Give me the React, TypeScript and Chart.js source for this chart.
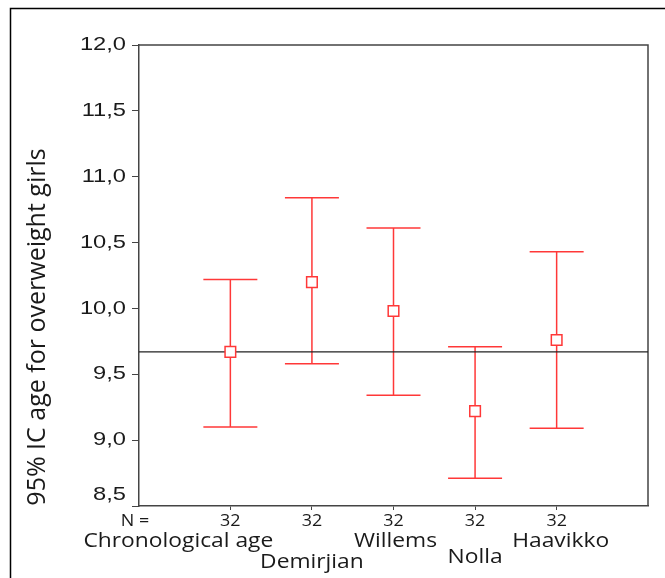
import { useEffect, useRef } from 'react';
import { Chart, registerables } from 'chart.js';

Chart.register(...registerables);

// Dental age estimation methods compared with chronological age (overweight girls)
const categories = ['Chronological age', 'Demirjian', 'Willems', 'Nolla', 'Haavikko'];
const sampleSizes = [32, 32, 32, 32, 32];
const means = [9.67, 10.2, 9.98, 9.22, 9.76];
const lowerCI = [9.1, 9.58, 9.34, 8.71, 9.09];
const upperCI = [10.22, 10.84, 10.61, 9.71, 10.43];
const referenceAge = 9.67;
const yTickValues = [8.5, 9.0, 9.5, 10.0, 10.5, 11.0, 11.5, 12.0];

const yTitle = '95% IC age for overweight girls';

const NUM_FONT = '"Liberation Sans", Arial, sans-serif';
const TEXT_FONT = '"Open Sans", "Noto Sans", sans-serif';
const RED = '#ff3838';
const AXIS = '#444444';
const INK = '#1a1a1a';

// label layout for the staggered category names (offset from tick, distance below axis)
const nameShift = [-52, 0, 2, 0, 4];
const nameDrop = [35, 56, 35, 51, 35];

// text drawn slightly wider than the font's natural width
function wideText(ctx: CanvasRenderingContext2D, text: string, x: number, y: number, stretch: number) {
  ctx.save();
  ctx.translate(x, y);
  ctx.scale(stretch, 1);
  ctx.fillText(text, 0, 0);
  ctx.restore();
}

const decorPlugin = {
  id: 'decor',
  beforeDatasetsDraw(chart: any) {
    const { ctx, chartArea: a, scales } = chart;
    const xs = scales.x;
    const ys = scales.y;
    ctx.save();
    // top and right sides of the plot box
    ctx.strokeStyle = AXIS;
    ctx.lineWidth = 1.5;
    ctx.beginPath();
    ctx.moveTo(a.left, a.top);
    ctx.lineTo(a.right, a.top);
    ctx.lineTo(a.right, a.bottom);
    ctx.stroke();

    // confidence-interval bars
    ctx.strokeStyle = RED;
    ctx.lineWidth = 1.5;
    const cap = 27;
    categories.forEach((_, i) => {
      const x = xs.getPixelForValue(i);
      const yl = ys.getPixelForValue(lowerCI[i]);
      const yu = ys.getPixelForValue(upperCI[i]);
      ctx.beginPath();
      ctx.moveTo(x, yu);
      ctx.lineTo(x, yl);
      ctx.moveTo(x - cap, yu);
      ctx.lineTo(x + cap, yu);
      ctx.moveTo(x - cap, yl);
      ctx.lineTo(x + cap, yl);
      ctx.stroke();
    });

    // reference line at mean chronological age
    const yr = ys.getPixelForValue(referenceAge);
    ctx.strokeStyle = '#222';
    ctx.lineWidth = 1.3;
    ctx.beginPath();
    ctx.moveTo(a.left, yr);
    ctx.lineTo(a.right, yr);
    ctx.stroke();
    ctx.restore();
  },
  afterDraw(chart: any) {
    const { ctx, chartArea: a, scales } = chart;
    const xs = scales.x;
    const ys = scales.y;
    ctx.save();
    ctx.fillStyle = INK;
    ctx.textBaseline = 'middle';

    // y tick labels
    ctx.textAlign = 'right';
    ctx.font = `18.5px ${NUM_FONT}`;
    yTickValues.forEach((v, i) => {
      let y = ys.getPixelForValue(v);
      if (i === 0) y = Math.min(y, a.bottom - 11);
      wideText(ctx, v.toFixed(1).replace('.', ','), a.left - 13, y, 1.28);
    });

    // sample sizes under each tick
    ctx.textAlign = 'center';
    ctx.font = `16px ${TEXT_FONT}`;
    wideText(ctx, 'N =', a.left - 4, a.bottom + 15, 1.12);
    sampleSizes.forEach((n, i) => {
      wideText(ctx, String(n), xs.getPixelForValue(i), a.bottom + 15, 1.12);
    });

    // category names
    ctx.font = `20px ${TEXT_FONT}`;
    categories.forEach((name, i) => {
      const x = xs.getPixelForValue(i) + nameShift[i];
      wideText(ctx, name, x, a.bottom + nameDrop[i], 1.14);
    });

    // y-axis title
    ctx.save();
    ctx.translate(38, 327);
    ctx.rotate(-Math.PI / 2);
    ctx.font = `25px ${TEXT_FONT}`;
    ctx.fillStyle = INK;
    ctx.fillText(yTitle, 0, 0);
    ctx.restore();

    // outer frame (top and left edges)
    ctx.strokeStyle = '#000';
    ctx.lineWidth = 1.5;
    ctx.beginPath();
    ctx.moveTo(10.5, chart.height);
    ctx.lineTo(10.5, 8.5);
    ctx.lineTo(chart.width, 8.5);
    ctx.stroke();
    ctx.restore();
  },
};

export default function App() {
  const ref = useRef<HTMLCanvasElement>(null);

  useEffect(() => {
    document.body.style.margin = '0';
    const chart = new Chart(ref.current!, {
      type: 'scatter',
      data: {
        datasets: [
          {
            data: means.map((m, i) => ({ x: i, y: m })),
            pointStyle: 'rect',
            pointRadius: 7.5,
            pointHoverRadius: 7.5,
            borderColor: RED,
            backgroundColor: '#ffffff',
            borderWidth: 1.5,
          },
        ],
      },
      options: {
        animation: false,
        responsive: false,
        events: [],
        layout: { padding: { left: 0, right: 17, top: 45, bottom: 0 } },
        plugins: { legend: { display: false }, tooltip: { enabled: false } },
        scales: {
          x: {
            type: 'linear',
            min: -1.12,
            max: 5.12,
            afterBuildTicks: (s: any) => {
              s.ticks = categories.map((_, i) => ({ value: i }));
            },
            afterFit: (s: any) => {
              s.height = 72;
            },
            ticks: { display: false },
            grid: { drawOnChartArea: false, drawTicks: true, tickLength: 4, color: AXIS },
            border: { color: AXIS, width: 1.5 },
          },
          y: {
            min: yTickValues[0],
            max: yTickValues[yTickValues.length - 1],
            afterBuildTicks: (s: any) => {
              s.ticks = yTickValues.map((v) => ({ value: v }));
            },
            afterFit: (s: any) => {
              s.width = 139;
            },
            ticks: { display: false },
            grid: { drawOnChartArea: false, drawTicks: true, tickLength: 7, color: AXIS },
            border: { color: AXIS, width: 1.5 },
          },
        },
      },
      plugins: [decorPlugin],
    });
    return () => chart.destroy();
  }, []);

  return (
    <div style={{ position: 'fixed', left: 0, top: 0, width: 665, height: 578, background: '#fff' }}>
      <canvas ref={ref} width={665} height={578} style={{ display: 'block' }} />
    </div>
  );
}
